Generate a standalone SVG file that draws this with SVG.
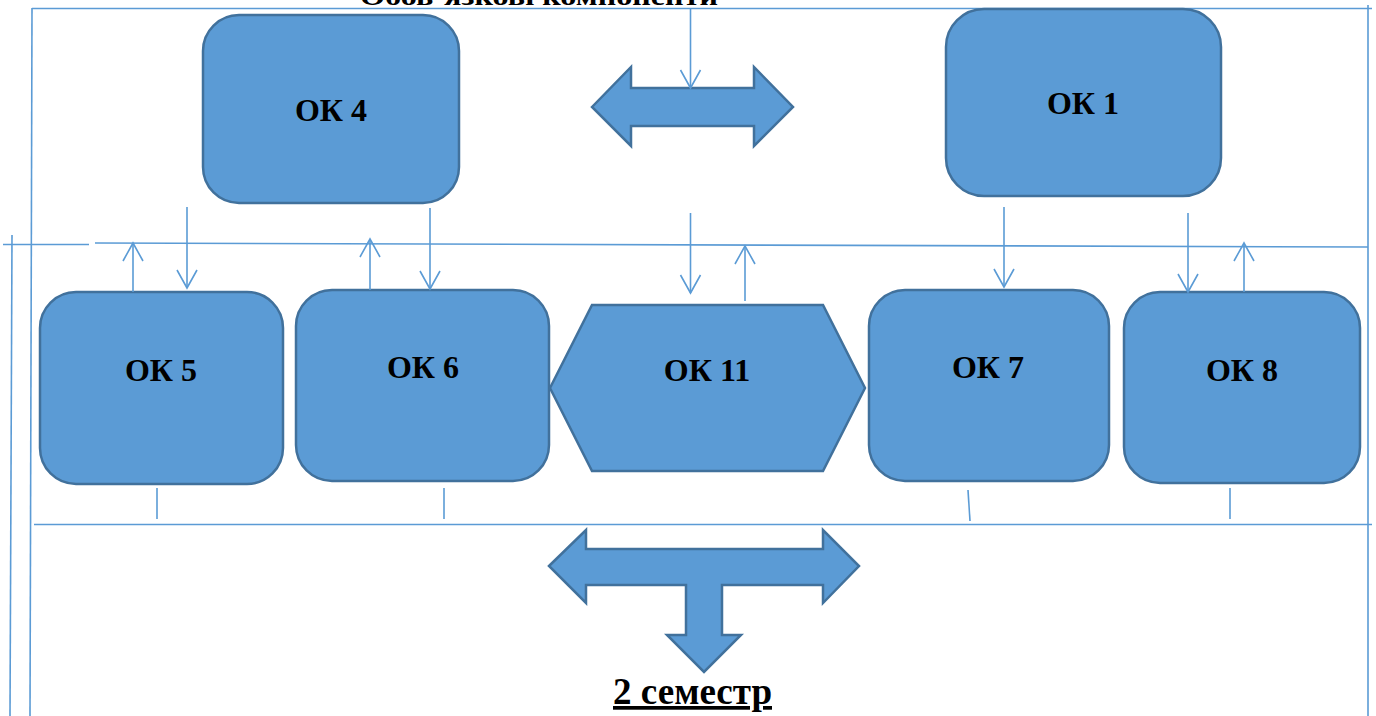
<svg xmlns="http://www.w3.org/2000/svg" width="1376" height="716" viewBox="0 0 1376 716">
<style>
.box{fill:#5b9bd5;stroke:#41719c;stroke-width:2.5}
.ln{fill:none;stroke:#5b9bd5;stroke-width:1.6}
.lbl{font-family:"Liberation Serif","Times New Roman",serif;font-weight:bold;font-size:32px;fill:#000;text-anchor:middle}
</style>
<defs>
<marker id="open" markerUnits="userSpaceOnUse" markerWidth="24" markerHeight="24" viewBox="-20 -12 24 24" refX="0" refY="0" orient="auto">
<path d="M-18,-10 L0,0 L-18,10" fill="none" stroke="#5b9bd5" stroke-width="1.6"/>
</marker>
</defs>
<rect width="1376" height="716" fill="#fff"/>
<text x="539" y="5" font-family="'Liberation Serif','Times New Roman',serif" font-weight="bold" font-size="26" text-anchor="middle" textLength="358" lengthAdjust="spacingAndGlyphs">Обов’язкові компоненти</text>
<g id="frame" class="ln">
<line x1="32" y1="8.5" x2="1372" y2="8.5"/>
<line x1="32" y1="8" x2="30" y2="716"/>
<line x1="1368" y1="5" x2="1368" y2="716"/>
<line x1="12" y1="235" x2="10" y2="716"/>
<line x1="3" y1="244.5" x2="89" y2="244.5"/>
<line x1="95" y1="243" x2="1368" y2="247"/>
<line x1="34" y1="524.5" x2="1372" y2="524.5"/>
</g>
<g id="arrow-top">
<path class="box" d="M592,107 L631,67 L631,88 L754,88 L754,67 L793,107 L754,146 L754,126 L631,126 L631,146 Z"/>
</g>
<g id="arrow-bottom">
<path class="box" d="M549,566 L586,530 L586,549 L823,549 L823,530 L859,566 L823,603 L823,585 L722,585 L722,635 L741,635 L704,672 L667,635 L686,635 L686,585 L586,585 L586,603 Z"/>
</g>
<g id="ok4"><rect class="box" x="203" y="15" width="256" height="188" rx="36"/><text class="lbl" x="331" y="121">ОК 4</text></g>
<g id="ok1"><rect class="box" x="946" y="9" width="275" height="187" rx="38"/><text class="lbl" x="1083" y="114">ОК 1</text></g>
<g id="ok5"><rect class="box" x="40" y="292" width="243" height="192" rx="36"/><text class="lbl" x="161" y="381">ОК 5</text></g>
<g id="ok6"><rect class="box" x="296" y="290" width="253" height="191" rx="36"/><text class="lbl" x="423" y="378">ОК 6</text></g>
<g id="ok11"><path class="box" d="M592,305 L823,305 L865,388 L823,471 L592,471 L550,388 Z"/><text class="lbl" x="707" y="381">ОК 11</text></g>
<g id="ok7"><rect class="box" x="869" y="290" width="240" height="191" rx="36"/><text class="lbl" x="988" y="378">ОК 7</text></g>
<g id="ok8"><rect class="box" x="1124" y="292" width="236" height="191" rx="36"/><text class="lbl" x="1242" y="381">ОК 8</text></g>
<g id="connectors" class="ln">
<line x1="690.5" y1="9" x2="690.5" y2="88" marker-end="url(#open)"/>
<line x1="187" y1="207" x2="187" y2="288" marker-end="url(#open)"/>
<line x1="430" y1="208" x2="430" y2="289" marker-end="url(#open)"/>
<line x1="133" y1="292" x2="133" y2="243" marker-end="url(#open)"/>
<line x1="370" y1="290" x2="370" y2="239" marker-end="url(#open)"/>
<line x1="690.5" y1="213" x2="690.5" y2="293" marker-end="url(#open)"/>
<line x1="745" y1="301" x2="745" y2="246" marker-end="url(#open)"/>
<line x1="1004" y1="207" x2="1004" y2="287" marker-end="url(#open)"/>
<line x1="1188" y1="213" x2="1188" y2="292" marker-end="url(#open)"/>
<line x1="1244" y1="292" x2="1244" y2="243" marker-end="url(#open)"/>
<line x1="157" y1="488" x2="157" y2="519"/>
<line x1="444" y1="488" x2="444" y2="519"/>
<line x1="968" y1="490" x2="970" y2="521"/>
<line x1="1230" y1="488" x2="1230" y2="519"/>
</g>
<text x="692.5" y="704" font-family="'Liberation Serif','Times New Roman',serif" font-weight="bold" font-size="37" text-anchor="middle" text-decoration="underline" textLength="159" lengthAdjust="spacingAndGlyphs">2 семестр</text>
</svg>
